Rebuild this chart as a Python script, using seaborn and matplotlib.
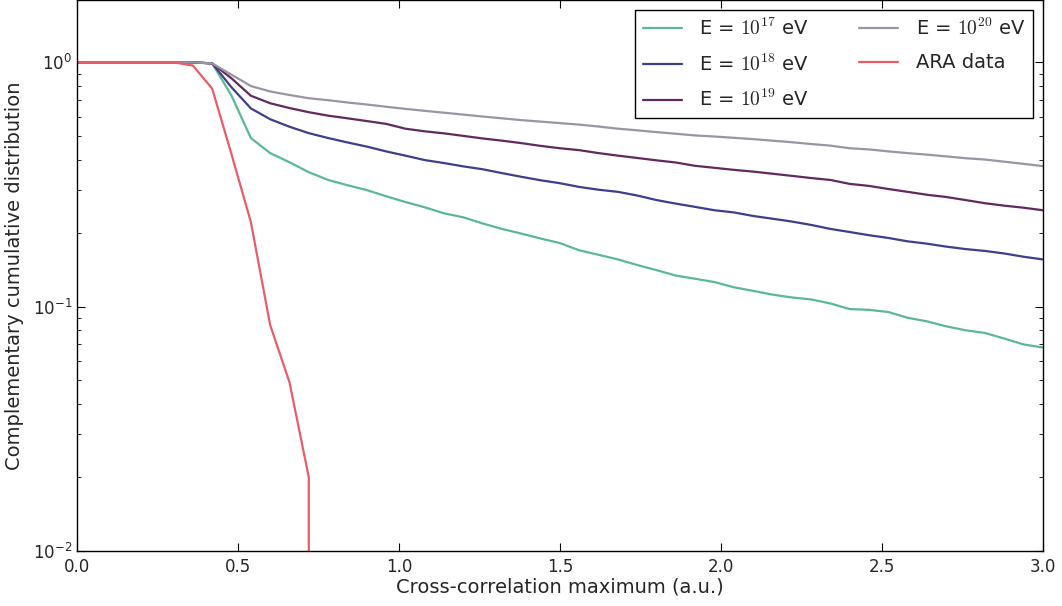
import numpy as np
import pandas as pd
import matplotlib
matplotlib.use("Agg")
import matplotlib.pyplot as plt
import seaborn as sns

# x grid of the cross-correlation maximum (step 0.06)
xcc = np.linspace(0, 3, 51)

flat = [1.0, 1.0, 1.0, 1.0, 1.0, 1.0, 1.0, 0.99]  # 0.0 .. 0.42

e17 = flat + [0.73, 0.49, 0.425, 0.39, 0.355, 0.33, 0.314, 0.30, 0.283, 0.268,
              0.255, 0.241, 0.232, 0.219, 0.208, 0.199, 0.19, 0.182, 0.170, 0.163,
              0.156, 0.148, 0.141, 0.134, 0.130, 0.126, 0.120, 0.116, 0.112, 0.109,
              0.107, 0.103, 0.0977, 0.097, 0.095, 0.090, 0.087, 0.083, 0.080, 0.078,
              0.074, 0.070, 0.068]
e18 = flat + [0.79, 0.648, 0.585, 0.545, 0.513, 0.49, 0.47, 0.452, 0.432, 0.415,
              0.398, 0.387, 0.375, 0.365, 0.352, 0.340, 0.329, 0.320, 0.309, 0.301,
              0.295, 0.285, 0.273, 0.264, 0.256, 0.248, 0.243, 0.235, 0.229, 0.223,
              0.216, 0.208, 0.202, 0.196, 0.191, 0.185, 0.181, 0.176, 0.172, 0.169,
              0.165, 0.160, 0.156]
e19 = flat + [0.86, 0.73, 0.68, 0.65, 0.625, 0.605, 0.59, 0.575, 0.56, 0.535,
              0.522, 0.512, 0.50, 0.488, 0.478, 0.467, 0.455, 0.445, 0.437, 0.425,
              0.415, 0.406, 0.397, 0.389, 0.377, 0.370, 0.363, 0.357, 0.350, 0.343,
              0.336, 0.330, 0.318, 0.312, 0.303, 0.295, 0.287, 0.281, 0.273, 0.265,
              0.259, 0.254, 0.248]
e20 = flat + [0.89, 0.80, 0.76, 0.735, 0.713, 0.70, 0.685, 0.672, 0.658, 0.645,
              0.633, 0.622, 0.611, 0.600, 0.590, 0.580, 0.572, 0.564, 0.556, 0.546,
              0.535, 0.527, 0.518, 0.510, 0.502, 0.497, 0.491, 0.485, 0.478, 0.471,
              0.463, 0.456, 0.445, 0.440, 0.432, 0.425, 0.419, 0.412, 0.405, 0.400,
              0.392, 0.384, 0.376]
ara = [1.0, 1.0, 1.0, 1.0, 1.0, 1.0, 0.97, 0.78, 0.42, 0.222, 0.084, 0.049, 0.020, 0.0]

names = [r"E = $10^{17}$ eV", r"E = $10^{18}$ eV", r"E = $10^{19}$ eV",
         r"E = $10^{20}$ eV", "ARA data"]
colors = ["#5bb897", "#3d3f8a", "#63285f", "#9a94a4", "#e95c68"]

frames = []
for nm, vals in zip(names, [e17, e18, e19, e20, ara]):
    frames.append(pd.DataFrame({"x": xcc[:len(vals)], "y": vals, "series": nm}))
df = pd.concat(frames, ignore_index=True)

sns.set_style("ticks")
plt.rcParams["font.family"] = ["DejaVu Sans"]
plt.rcParams["xtick.direction"] = "in"
plt.rcParams["ytick.direction"] = "in"

fig = plt.figure(figsize=(10.62, 6.06), dpi=100)
ax = fig.add_axes([0.0725, 0.091, 0.9095, 0.909])

sns.lineplot(data=df, x="x", y="y", hue="series", hue_order=names,
             palette=dict(zip(names, colors)), estimator=None, sort=False,
             linewidth=1.6, legend=False, ax=ax)

ax.set_yscale("log", nonpositive="clip")
ax.set_xlim(0, 3)
ax.set_ylim(0.01, 1.8)
ax.set_xticks([0.0, 0.5, 1.0, 1.5, 2.0, 2.5, 3.0])
ax.set_xticklabels(["0.0", "0.5", "1.0", "1.5", "2.0", "2.5", "3.0"])
ax.tick_params(which="both", top=True, right=True, labelsize=12, color="black")
ax.tick_params(which="major", length=6)
ax.tick_params(which="minor", length=3)
ax.tick_params(axis="x", pad=5)
for s in ax.spines.values():
    s.set_color("black")
    s.set_linewidth(1.0)

ax.set_xlabel("Cross-correlation maximum (a.u.)", fontsize=14, labelpad=1)
ax.set_ylabel("Complementary cumulative distribution", fontsize=14, labelpad=6)

leg = ax.legend(handles=ax.lines[:5], labels=names, ncol=2, loc="upper right",
                fancybox=False, framealpha=1, edgecolor="black",
                prop=dict(size=14, math_fontfamily="cm"), borderaxespad=0.5,
                labelspacing=0.75, columnspacing=2.6, handletextpad=0.9)
leg.get_frame().set_linewidth(1.0)

fig.savefig("out.png", dpi=100)
